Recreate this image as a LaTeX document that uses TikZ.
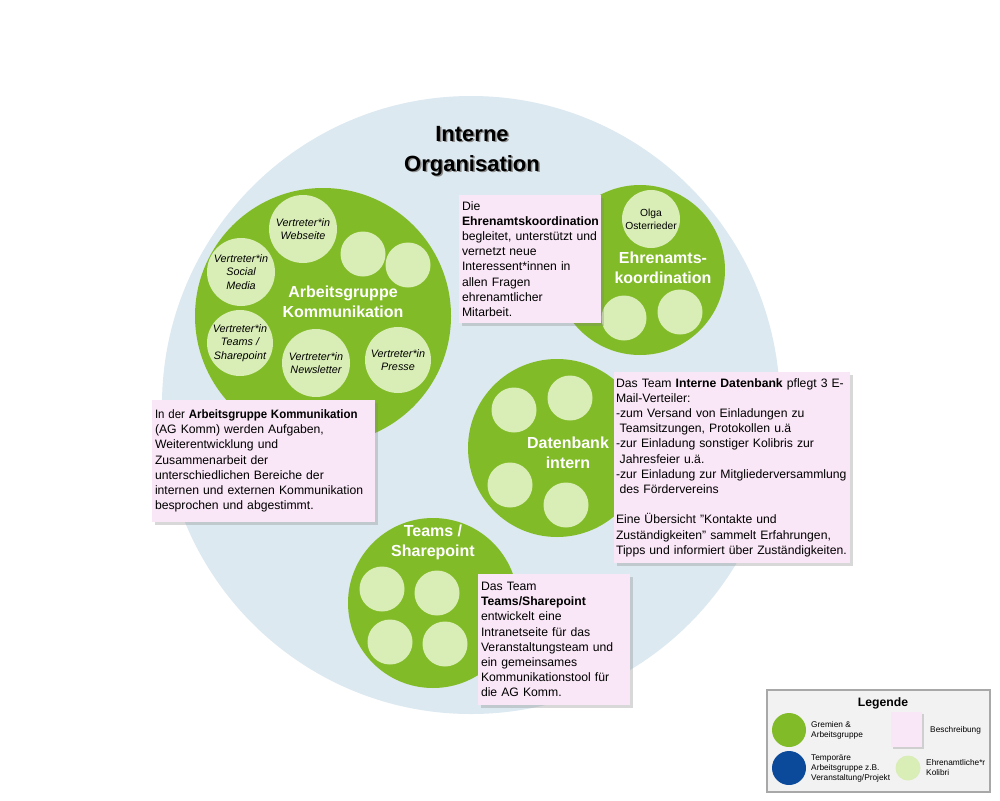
\documentclass[tikz,border=0pt]{standalone}
\usepackage{fontspec}
\setmainfont{Liberation Sans}
\usetikzlibrary{shadows}
\definecolor{bgblue}{HTML}{DCE9F0}
\definecolor{grn}{HTML}{82BB28}
\definecolor{lgrn}{HTML}{D9EDB6}
\definecolor{pinkbox}{HTML}{F9E6F6}
\definecolor{legblue}{HTML}{0B4A9B}
\definecolor{legbg}{HTML}{F2F2F2}
\definecolor{legline}{HTML}{A8A8A8}
\begin{document}
\begin{tikzpicture}[x=1pt,y=-1pt,
  groupc/.style={circle,fill=grn,inner sep=0pt,minimum size=#1},
  memberc/.style={circle,fill=lgrn,inner sep=0pt,minimum size=#1,align=center,
    font=\fontsize{10.8}{13}\selectfont\itshape},
  memberc/.default=45pt,
  grouplabel/.style={text=white,align=center,inner sep=0pt,
    font=\fontsize{16}{20}\selectfont\bfseries},
  desc/.style={fill=pinkbox,inner xsep=3pt,inner ysep=0pt,align=left,
    font=\fontsize{12.2}{15.2}\selectfont,
    drop shadow={shadow xshift=3pt,shadow yshift=-3pt,opacity=0.3}},
  legtext/.style={anchor=west,align=left,inner sep=0pt,font=\fontsize{8.3}{10}\selectfont}]
\useasboundingbox (0,0) rectangle (1000,800);
\fill[white] (0,0) rectangle (1000,800);

% background circle
\node[circle,fill=bgblue,inner sep=0pt,minimum size=618pt] (bg) at (471,405) {};

% title
\node[text=black!45,align=center,font=\fontsize{22}{30}\selectfont\bfseries] (titleshadow) at (473.5,152.5) {Interne\\Organisation};
\node[align=center,font=\fontsize{22}{30}\selectfont\bfseries] (title) at (472,151) {Interne\\Organisation};

% Arbeitsgruppe Kommunikation
\node[groupc=256pt] (ag) at (323,316) {};
\node[memberc=68pt] (agweb) at (303,229) {Vertreter*in\\Webseite};
\node[memberc] (age1) at (363,254) {};
\node[memberc] (age2) at (408,265) {};
\node[memberc=68pt,font=\fontsize{10.8}{13.5}\selectfont\itshape] (agsoc) at (241,272) {Vertreter*in\\Social\\Media};
\node[memberc=66pt,font=\fontsize{10.8}{13.5}\selectfont\itshape] (agteams) at (240,343) {Vertreter*in\\Teams /\\Sharepoint};
\node[memberc=68pt] (agnews) at (316,363) {Vertreter*in\\Newsletter};
\node[memberc=66pt] (agpresse) at (398,360) {Vertreter*in\\Presse};
\node[grouplabel] (aglabel) at (343,302) {Arbeitsgruppe\\Kommunikation};

% Ehrenamtskoordination
\node[groupc=170pt] (eh) at (640,270) {};
\node[memberc=58pt,font=\fontsize{10.3}{13}\selectfont] (ehol) at (651,219) {Olga\\Osterrieder};
\node[memberc] (ehe1) at (624,318) {};
\node[memberc] (ehe2) at (680,312) {};
\node[grouplabel] (ehlabel) at (663,268) {Ehrenamts-\\koordination};

% Datenbank intern
\node[groupc=178pt] (db) at (557,448) {};
\node[memberc] (dbe1) at (514,410) {};
\node[memberc] (dbe2) at (570,398) {};
\node[memberc] (dbe3) at (510,485) {};
\node[memberc] (dbe4) at (566,505) {};
\node[grouplabel] (dblabel) at (568,453) {Datenbank\\intern};

% Teams / Sharepoint
\node[groupc=170pt] (ts) at (433,603) {};
\node[memberc] (tse1) at (382,589) {};
\node[memberc] (tse2) at (437,593) {};
\node[memberc] (tse3) at (390,642) {};
\node[memberc] (tse4) at (445,644) {};
\node[grouplabel] (tslabel) at (433,542) {Teams /\\Sharepoint};

% description boxes
\node[desc,minimum width=142pt,minimum height=128pt,text width=136pt] (ehdesc) at (530,259)
 {Die\\\textbf{Ehrenamtskoordination}\\begleitet, unterstützt und\\vernetzt neue\\Interessent*innen in\\allen Fragen\\ehrenamtlicher\\Mitarbeit.};
\node[desc,minimum width=223pt,minimum height=122pt,text width=217pt,inner xsep=3pt] (agdesc) at (263.5,461)
 {\scalebox{0.94}[1]{In der \textbf{Arbeitsgruppe Kommunikation}}\\(AG Komm) werden Aufgaben,\\Weiterentwicklung und\\Zusammenarbeit der\\unterschiedlichen Bereiche der\\internen und externen Kommunikation\\besprochen und abgestimmt.};
\node[desc,minimum width=236pt,minimum height=191pt,text width=232pt,inner xsep=2pt] (dbdesc) at (732,467.5)
 {Das Team \textbf{Interne Datenbank} pflegt 3 E-\\Mail-Verteiler:\\-zum Versand von Einladungen zu\\\hspace*{0.3em}Teamsitzungen, Protokollen u.ä\\-zur Einladung sonstiger Kolibris zur\\\hspace*{0.3em}Jahresfeier u.ä.\\-zur Einladung zur Mitgliederversammlung\\\hspace*{0.3em}des Fördervereins\\[15.2pt]Eine Übersicht "Kontakte und\\Zuständigkeiten" sammelt Erfahrungen,\\Tipps und informiert über Zuständigkeiten.};
\node[desc,minimum width=152pt,minimum height=131pt,text width=146pt] (tsdesc) at (554,639.5)
 {Das Team\\\textbf{Teams/Sharepoint}\\entwickelt eine\\Intranetseite für das\\Veranstaltungsteam und\\ein gemeinsames\\Kommunikationstool für\\die AG Komm.};

% legend
\node[draw=legline,fill=legbg,line width=1.5pt,minimum width=223pt,minimum height=102pt,inner sep=0pt] (legend) at (878.5,741) {};
\node[font=\fontsize{12.2}{14}\selectfont\bfseries,inner sep=0pt] (legtitle) at (883,703) {Legende};
\node[circle,fill=grn,inner sep=0pt,minimum size=34pt] (leggrn) at (789,730) {};
\node[legtext] (leggrntext) at (811,730) {Gremien \&\\Arbeitsgruppe};
\node[circle,fill=legblue,inner sep=0pt,minimum size=34pt] (legblu) at (789,768) {};
\node[legtext] (legblutext) at (811,768) {Temporäre\\Arbeitsgruppe z.B.\\Veranstaltung/Projekt};
\node[fill=pinkbox,inner sep=0pt,minimum width=31pt,minimum height=35pt,
  drop shadow={shadow xshift=2pt,shadow yshift=-2pt,opacity=0.3}] (legpink) at (906.5,729.5) {};
\node[legtext] (legpinktext) at (930,730) {Beschreibung};
\node[circle,fill=lgrn,inner sep=0pt,minimum size=25pt] (leglgrn) at (908,768) {};
\node[legtext] (leglgrntext) at (926,768) {Ehrenamtliche*r\\Kolibri};
\end{tikzpicture}
\end{document}
